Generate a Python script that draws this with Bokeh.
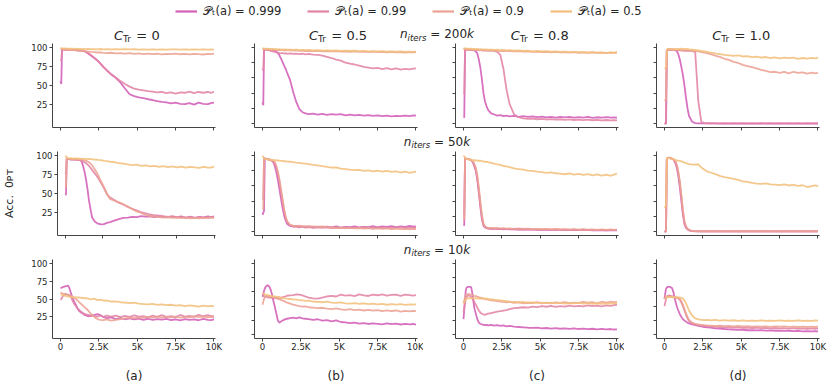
import math
from bokeh.plotting import figure
from bokeh.layouts import column, row
from bokeh.models import ColumnDataSource, FixedTicker, Range1d, Label, Legend, LegendItem
from bokeh.embed import file_html
from bokeh.resources import INLINE

FONT = "DejaVu Sans"
TXT = "#262626"
AX = "#444444"
COLORS = ["#d35fb7", "#e384a7", "#eca293", "#f2bf7c"]
LEGEND_VALUES = ["0.999", "0.99", "0.9", "0.5"]
C_TR = ["0", "0.5", "0.8", "1.0"]
N_ITERS = ["200k", "50k", "10k"]
PANEL_TAGS = ["(a)", "(b)", "(c)", "(d)"]
Y_LABEL = "Acc.\u00a0 0\u1d18\u1d1b"
X_TICKS = [0, 2500, 5000, 7500, 10000]
X_TICK_LABELS = ["0", "2.5K", "5K", "7.5K", "10K"]
Y_TICKS_FIRST = [25, 50, 75, 100]
Y_TICKS_OTHER = [0, 20, 40, 60, 80, 100]

# training iteration grid (shared by all curves)
steps = [0, 50, 100, 150, 200, 300, 400, 500, 600, 700,
         800, 900, 1000, 1100, 1200, 1300, 1400, 1500, 1600, 1800,
         2000, 2200, 2400, 2600, 2800, 3000, 3300, 3600, 3900, 4200,
         4500, 4800, 5100, 5400, 5700, 6000, 6300, 6600, 6900, 7200,
         7500, 7800, 8100, 8400, 8700, 9000, 9300, 9600, 9800, 10000]

# ---------------- row 1: n_iters = 200k ----------------
a1_999 = [56, 52, 97, 97.5, 97, 97.3, 96.8, 97.2, 96.9, 97.1,
          96.5, 96.8, 96.3, 96.6, 95.9, 96.0, 95.6, 95.2, 94.5, 92.0,
          89.0, 86.0, 82.5, 78.5, 74.0, 70.0, 64.5, 60.0, 54.0, 46.0,
          38.5, 36.0, 34.5, 33.5, 32.0, 31.0, 29.5, 28.5, 28.0, 26.5,
          27.5, 26.0, 25.5, 27.0, 25.0, 27.5, 26.0, 25.5, 27.0, 27.5]
a1_99 = [84, 83, 96.5, 97, 97.2, 96.8, 97.3, 96.6, 97, 96.4,
         96.8, 96.2, 96.5, 95.8, 96.1, 95.6, 95.3, 95.0, 94.6, 92.5,
         89.5, 86.5, 83.0, 79.0, 74.5, 70.5, 65.0, 60.5, 56.0, 52.0,
         48.5, 46.0, 44.5, 43.5, 42.5, 42.0, 41.0, 41.5, 40.0, 41.0,
         39.5, 41.0, 40.5, 42.0, 40.0, 41.5, 40.5, 41.5, 40.5, 41.5]
a1_9 = [98.5, 98, 97.5, 97.3, 97.6, 97, 97.2, 96.8, 96.5, 96.8,
        96.2, 96.5, 96.0, 95.7, 96.0, 95.4, 95.6, 95.1, 94.8, 94.5,
        94.0, 93.8, 93.2, 93.5, 92.8, 92.5, 92.9, 92.0, 92.4, 91.8,
        92.3, 91.5, 92.0, 91.2, 91.8, 91.0, 91.6, 90.8, 91.5, 91.0,
        91.7, 90.9, 91.3, 90.7, 91.5, 91.0, 90.6, 91.4, 91.0, 91.8]
a1_5 = [99, 98.8, 98.5, 98.6, 98.3, 98.5, 98.2, 98.4, 98.1, 98.3,
        98.0, 98.2, 97.9, 98.1, 97.8, 98.0, 97.7, 97.9, 97.6, 97.8,
        97.5, 97.7, 97.4, 97.8, 97.3, 97.6, 97.2, 97.5, 97.3, 97.6,
        97.2, 97.5, 97.1, 97.4, 97.0, 97.3, 97.1, 97.4, 97.0, 97.2,
        97.4, 96.9, 97.2, 97.0, 97.3, 96.9, 97.2, 97.0, 97.3, 97.1]

b1_999 = [28, 24, 96.5, 97.5, 97, 97.3, 96.8, 97.1, 96.5, 96.2,
          95.5, 94.5, 92.5, 89.5, 85.5, 81.0, 76.5, 72.0, 67.0, 57.0,
          41.5, 28.5, 19.0, 15.0, 13.5, 12.5, 13.2, 12.0, 12.8, 11.5,
          12.5, 11.8, 12.4, 11.0, 12.0, 10.8, 11.5, 10.5, 11.3, 10.2,
          11.0, 9.8, 10.5, 9.5, 10.2, 9.8, 10.6, 10.0, 10.8, 10.5]
b1_99 = [72, 70, 96.5, 97.2, 97, 96.5, 96.2, 95.5, 95.0, 94.5,
         94.0, 93.5, 93.0, 92.5, 92.2, 92.6, 91.8, 92.3, 91.5, 92.0,
         91.4, 91.8, 91.2, 91.6, 90.8, 91.3, 90.5, 90.0, 89.0, 87.5,
         86.0, 84.0, 82.5, 80.0, 78.5, 77.5, 76.0, 74.5, 73.5, 72.5,
         73.2, 71.5, 72.8, 71.0, 72.5, 70.8, 71.8, 71.2, 72.0, 72.3]
b1_9 = [98, 97.8, 97.5, 97.6, 97.2, 97.4, 97.0, 97.2, 96.8, 97.0,
        96.6, 96.8, 96.4, 96.6, 96.2, 96.5, 96.0, 96.3, 95.9, 96.1,
        95.7, 95.9, 95.4, 95.7, 95.2, 95.5, 95.0, 95.3, 94.8, 95.1,
        94.6, 94.9, 94.4, 94.8, 94.2, 94.6, 94.0, 94.5, 93.8, 94.3,
        93.6, 94.1, 93.5, 94.0, 93.4, 93.8, 93.2, 93.7, 93.3, 93.6]
b1_5 = [98.8, 98.5, 98.2, 98.4, 98.0, 98.2, 97.8, 98.0, 97.6, 97.9,
        97.5, 97.7, 97.3, 97.5, 97.1, 97.3, 96.9, 97.2, 96.8, 97.0,
        96.6, 96.8, 96.4, 96.7, 96.2, 96.5, 96.0, 96.3, 95.8, 96.1,
        95.6, 95.9, 95.4, 95.7, 95.2, 95.5, 95.0, 95.3, 94.8, 95.1,
        94.6, 94.9, 94.4, 94.7, 94.2, 94.6, 94.0, 94.4, 94.1, 94.3]

c1_999 = [8, 8.5, 96.5, 97.2, 97, 97.3, 96.8, 97.0, 96.5, 96.0,
          94.5, 92.0, 84.0, 73.0, 58.0, 40.0, 29.0, 23.0, 18.0, 13.5,
          12.0, 10.5, 11.2, 9.8, 10.5, 9.5, 10.2, 9.0, 9.8, 8.8,
          9.5, 8.5, 9.2, 8.3, 9.0, 8.0, 8.8, 8.2, 9.0, 7.8,
          8.6, 7.9, 8.8, 7.6, 8.4, 8.0, 8.7, 7.8, 8.2, 8.0]
c1_99 = [39, 40, 96.5, 97, 96.8, 97.2, 96.7, 97.0, 96.6, 96.9,
         96.4, 96.7, 96.2, 96.5, 96.0, 96.3, 95.8, 96.1, 95.6, 95.9,
         95.4, 94.0, 90.0, 72.0, 45.0, 26.0, 12.0, 8.5, 7.0, 6.2,
         6.8, 5.8, 6.3, 5.5, 6.0, 5.2, 5.8, 5.0, 5.6, 4.8,
         5.4, 4.6, 5.2, 4.5, 5.0, 4.3, 4.8, 4.2, 4.6, 4.4]
c1_9 = [98, 97.6, 97.3, 97.5, 97.1, 97.3, 96.9, 97.1, 96.7, 96.9,
        96.5, 96.7, 96.3, 96.5, 96.1, 96.3, 95.9, 96.1, 95.7, 95.9,
        95.5, 95.7, 95.2, 95.4, 94.9, 95.2, 94.6, 94.9, 94.3, 94.7,
        94.0, 94.4, 93.8, 94.2, 93.5, 94.0, 93.3, 93.8, 93.1, 93.6,
        92.9, 93.4, 92.8, 93.3, 92.6, 93.1, 92.5, 93.0, 92.7, 93.2]
c1_5 = [99, 98.7, 98.4, 98.5, 98.2, 98.3, 98.0, 98.2, 97.8, 98.0,
        97.6, 97.8, 97.4, 97.6, 97.2, 97.4, 97.0, 97.2, 96.8, 97.0,
        96.6, 96.8, 96.3, 96.5, 96.0, 96.2, 95.6, 95.9, 95.2, 95.5,
        94.8, 95.2, 94.5, 94.9, 94.2, 94.6, 93.9, 94.3, 93.6, 94.0,
        93.4, 93.8, 93.2, 93.6, 93.0, 93.5, 92.8, 93.3, 92.9, 93.5]

d1_999 = [0.3, 0.2, 0.4, 96.5, 97.2, 97.5, 97.0, 97.3, 96.8, 96.5,
          95.0, 91.0, 84.0, 74.0, 64.0, 50.0, 34.0, 20.0, 10.0, 2.5,
          0.8, 0.5, 0.4, 0.3, 0.4, 0.3, 0.3, 0.2, 0.3, 0.2,
          0.3, 0.2, 0.3, 0.2, 0.3, 0.2, 0.3, 0.2, 0.3, 0.2,
          0.3, 0.2, 0.3, 0.2, 0.3, 0.2, 0.3, 0.2, 0.3, 0.2]
d1_99 = [0.2, 0.3, 0.3, 96.0, 96.8, 96.5, 96.8, 96.3, 96.6, 96.1,
         96.4, 95.9, 96.2, 95.7, 96.0, 95.5, 95.8, 95.3, 95.6, 95.0,
         94.0, 30.0, 2.5, 0.8, 0.5, 0.4, 0.4, 0.3, 0.4, 0.3,
         0.4, 0.3, 0.4, 0.3, 0.4, 0.3, 0.4, 0.3, 0.4, 0.3,
         0.4, 0.3, 0.4, 0.3, 0.4, 0.3, 0.4, 0.3, 0.4, 0.3]
d1_9 = [31, 30.5, 31.5, 96.0, 96.8, 97.2, 96.8, 97.1, 96.6, 96.9,
        96.5, 96.8, 96.3, 96.6, 96.1, 96.4, 95.9, 96.2, 95.7, 95.5,
        95.0, 94.6, 93.8, 93.2, 92.0, 91.0, 89.0, 87.5, 85.0, 83.5,
        81.0, 79.5, 77.0, 75.5, 74.0, 72.5, 70.5, 69.0, 67.5, 68.0,
        66.5, 67.8, 66.0, 68.0, 66.5, 67.2, 65.5, 66.8, 65.8, 66.5]
d1_5 = [73, 72.5, 73.5, 96.5, 97.5, 97.8, 97.5, 97.9, 97.6, 98.0,
        97.7, 98.1, 97.8, 98.2, 97.6, 98.0, 97.5, 97.8, 97.3, 97.0,
        96.5, 96.0, 95.2, 94.6, 94.0, 93.2, 92.0, 91.2, 90.0, 89.5,
        88.8, 89.5, 88.0, 88.6, 87.2, 87.8, 86.5, 87.3, 86.0, 86.8,
        85.5, 86.4, 85.8, 86.6, 85.0, 86.0, 85.3, 86.2, 85.6, 86.5]

# ---------------- row 2: n_iters = 50k ----------------
a2_999 = [48, 49, 96.0, 95.5, 95.0, 94.8, 94.5, 94.8, 94.3, 94.6,
          94.2, 94.4, 93.8, 92.0, 86.0, 78.0, 68.0, 55.0, 40.0, 19.0,
          13.0, 10.5, 9.5, 10.0, 11.5, 12.5, 14.5, 16.5, 18.0, 18.5,
          19.5, 19.0, 20.5, 19.8, 20.2, 19.2, 20.0, 19.5, 18.8, 19.6,
          18.5, 19.8, 18.2, 19.5, 18.0, 19.2, 18.6, 20.0, 19.0, 20.0]
a2_99 = [77, 76, 96.0, 95.6, 95.2, 95.0, 94.7, 94.9, 94.4, 94.7,
         94.3, 94.0, 93.5, 93.0, 92.0, 91.0, 89.5, 88.0, 86.0, 81.0,
         76.0, 70.5, 64.0, 57.0, 49.0, 45.0, 41.5, 38.0, 35.5, 32.5,
         30.0, 28.0, 25.5, 24.0, 22.5, 21.5, 21.0, 20.2, 19.5, 20.5,
         19.0, 20.0, 18.5, 19.6, 18.2, 19.4, 18.0, 19.0, 18.4, 19.5]
a2_9 = [59, 58, 96.5, 96.0, 95.6, 95.3, 95.0, 95.2, 94.8, 95.0,
        94.6, 94.8, 94.3, 94.5, 94.0, 93.5, 92.8, 92.0, 91.0, 87.0,
        81.0, 74.5, 66.0, 58.5, 50.0, 43.0, 40.5, 38.5, 36.0, 33.0,
        29.5, 26.5, 24.5, 22.0, 20.5, 20.0, 19.2, 18.5, 19.0, 18.0,
        18.8, 17.8, 18.5, 17.5, 18.2, 17.6, 18.5, 17.8, 18.6, 18.2]
a2_5 = [99.5, 98.5, 97.0, 96.5, 96.2, 96.0, 96.3, 95.8, 96.1, 95.7,
        95.9, 95.5, 95.8, 95.4, 95.6, 95.2, 95.5, 95.0, 95.3, 94.8,
        94.5, 94.0, 93.6, 92.8, 92.3, 91.6, 91.0, 89.8, 89.2, 88.0,
        87.2, 87.8, 86.3, 86.9, 85.5, 86.2, 85.0, 85.8, 84.6, 85.4,
        84.3, 85.2, 84.0, 85.0, 84.2, 83.5, 84.8, 84.0, 83.8, 85.6]

b2_999 = [22, 25, 27, 96.0, 95.5, 95.0, 94.6, 94.0, 93.0, 91.0,
          86.0, 78.0, 68.0, 56.0, 44.0, 32.0, 22.0, 15.0, 10.5, 7.5,
          6.8, 7.5, 6.2, 7.0, 6.0, 6.8, 5.8, 6.6, 5.5, 6.5,
          5.6, 6.8, 5.4, 6.2, 5.8, 7.0, 5.5, 6.4, 6.0, 7.2,
          5.8, 6.8, 6.2, 7.4, 6.0, 7.0, 6.4, 7.5, 6.6, 7.0]
b2_99 = [42, 43, 96.5, 96.0, 95.5, 95.0, 94.6, 94.2, 93.6, 92.5,
         90.0, 84.0, 76.0, 65.0, 53.0, 40.0, 28.0, 19.0, 13.0, 8.5,
         7.0, 6.2, 5.8, 6.5, 5.4, 6.0, 5.0, 5.8, 5.2, 5.6,
         4.8, 5.5, 5.0, 5.8, 4.6, 5.4, 5.2, 6.0, 4.8, 5.6,
         5.0, 5.8, 4.6, 5.5, 5.2, 6.0, 5.0, 5.4, 4.8, 5.6]
b2_9 = [29, 30, 95.5, 96.0, 95.6, 95.2, 94.8, 94.3, 93.8, 92.8,
        91.0, 86.5, 79.0, 69.0, 57.0, 44.0, 31.0, 21.0, 14.0, 9.0,
        8.0, 7.2, 7.8, 6.8, 7.4, 6.5, 7.0, 6.2, 6.8, 6.0,
        5.5, 4.8, 5.2, 4.5, 5.0, 4.2, 4.8, 4.0, 4.6, 3.8,
        4.4, 3.6, 4.2, 3.5, 4.0, 3.4, 3.8, 3.2, 3.6, 3.5]
b2_5 = [99.5, 98.0, 96.0, 95.5, 95.0, 94.6, 94.2, 94.5, 93.8, 94.0,
        93.5, 93.7, 93.0, 93.2, 92.6, 92.8, 92.2, 92.4, 91.8, 91.6,
        91.0, 90.5, 90.2, 89.5, 89.0, 88.6, 87.5, 86.8, 85.8, 85.0,
        83.8, 84.2, 82.5, 82.0, 81.2, 80.5, 81.0, 79.5, 80.2, 79.0,
        79.8, 78.5, 79.5, 78.2, 79.0, 77.5, 78.5, 77.0, 78.0, 78.6]

c2_999 = [8, 9, 96.0, 95.8, 95.5, 95.2, 94.5, 93.5, 91.0, 86.0,
          80.0, 68.0, 50.0, 32.0, 16.0, 8.0, 5.5, 4.5, 4.0, 3.6,
          4.0, 3.4, 3.8, 3.2, 3.6, 3.0, 3.4, 2.8, 3.2, 2.6,
          3.0, 2.5, 2.8, 2.4, 2.7, 2.2, 2.6, 2.1, 2.5, 2.0,
          2.4, 2.0, 2.3, 1.9, 2.2, 1.8, 2.1, 1.8, 2.0, 1.9]
c2_99 = [23, 24, 96.5, 96.0, 95.6, 95.3, 94.8, 94.0, 92.0, 88.0,
         82.0, 71.0, 54.0, 35.0, 19.0, 9.5, 6.0, 5.0, 4.5, 4.0,
         3.6, 4.2, 3.4, 3.9, 3.2, 3.7, 3.0, 3.5, 2.8, 3.3,
         2.6, 3.1, 2.5, 3.0, 2.4, 2.9, 2.3, 2.8, 2.2, 2.7,
         2.1, 2.6, 2.0, 2.5, 2.0, 2.4, 1.9, 2.4, 2.0, 2.3]
c2_9 = [15, 16, 96.0, 95.8, 95.4, 95.0, 94.6, 93.8, 92.5, 89.0,
        84.0, 74.0, 58.0, 39.0, 22.0, 11.0, 7.0, 5.5, 5.0, 4.8,
        4.5, 4.8, 4.2, 4.6, 4.0, 4.4, 3.8, 4.2, 3.6, 4.0,
        3.4, 3.8, 3.2, 3.6, 3.0, 3.5, 2.9, 3.4, 2.8, 3.3,
        2.7, 3.2, 2.6, 3.1, 2.5, 3.0, 2.4, 2.9, 2.5, 2.8]
c2_5 = [99.5, 98.5, 97.0, 96.0, 95.2, 94.5, 94.8, 94.0, 93.5, 93.8,
        93.2, 93.5, 92.8, 93.0, 92.4, 92.0, 91.5, 91.8, 91.0, 90.2,
        89.0, 88.2, 87.5, 86.0, 85.5, 84.6, 83.0, 82.0, 81.2, 80.0,
        79.5, 78.6, 78.0, 77.0, 77.8, 76.5, 76.0, 75.2, 76.2, 74.8,
        75.8, 74.5, 75.5, 73.8, 75.0, 73.5, 74.6, 73.2, 74.8, 76.0]

d2_999 = [0.3, 0.2, 0.4, 95.0, 96.5, 96.8, 96.2, 95.5, 94.0, 90.0,
          84.0, 73.0, 58.0, 40.0, 22.0, 10.0, 5.0, 3.0, 1.8, 0.8,
          0.5, 0.4, 0.5, 0.3, 0.4, 0.3, 0.4, 0.3, 0.4, 0.3,
          0.4, 0.3, 0.4, 0.3, 0.4, 0.3, 0.4, 0.3, 0.4, 0.3,
          0.4, 0.3, 0.4, 0.3, 0.4, 0.3, 0.4, 0.3, 0.4, 0.3]
d2_99 = [0.2, 0.3, 0.3, 94.5, 96.2, 96.5, 96.0, 95.4, 94.5, 91.5,
         86.5, 77.0, 63.0, 45.0, 26.0, 12.0, 6.0, 3.5, 2.0, 0.9,
         0.6, 0.5, 0.4, 0.5, 0.4, 0.5, 0.4, 0.5, 0.4, 0.5,
         0.4, 0.5, 0.4, 0.5, 0.4, 0.5, 0.4, 0.5, 0.4, 0.5,
         0.4, 0.5, 0.4, 0.5, 0.4, 0.5, 0.4, 0.5, 0.4, 0.5]
d2_9 = [0.3, 0.3, 0.5, 95.5, 96.8, 97.0, 96.5, 95.8, 94.8, 92.5,
        88.0, 79.0, 66.0, 48.0, 29.0, 14.0, 7.0, 4.0, 2.2, 1.0,
        0.7, 0.6, 0.5, 0.6, 0.5, 0.6, 0.5, 0.6, 0.5, 0.6,
        0.5, 0.6, 0.5, 0.6, 0.5, 0.6, 0.5, 0.6, 0.5, 0.6,
        0.5, 0.6, 0.5, 0.6, 0.5, 0.6, 0.5, 0.6, 0.5, 0.6]
d2_5 = [33, 32, 34, 95.5, 96.5, 96.2, 95.8, 95.2, 94.8, 94.0,
        93.5, 93.0, 92.6, 92.0, 91.4, 90.6, 89.8, 89.2, 88.5, 88.0,
        87.8, 88.3, 84.0, 81.0, 78.5, 77.5, 75.5, 73.0, 71.5, 70.5,
        69.0, 67.8, 66.0, 65.2, 64.0, 63.0, 62.5, 63.2, 62.0, 61.5,
        61.0, 62.0, 60.5, 61.2, 60.0, 60.8, 58.5, 59.8, 60.5, 59.8]

# ---------------- row 3: n_iters = 10k ----------------
a3_999 = [65, 65.5, 66.0, 66.5, 67.0, 67.5, 68.0, 68.5, 64.0, 57.0,
          50.0, 46.0, 42.0, 37.0, 33.5, 32.0, 30.5, 29.0, 27.5, 26.0,
          26.5, 28.0, 29.0, 27.5, 25.0, 23.5, 24.5, 22.0, 23.5, 21.8,
          23.0, 21.5, 22.8, 21.0, 22.5, 20.8, 22.0, 21.2, 22.4, 20.5,
          21.8, 20.2, 22.0, 20.8, 21.5, 20.4, 22.2, 21.0, 20.6, 21.5]
a3_99 = [49, 50, 52, 54, 55.5, 57.0, 56.5, 56.0, 55.0, 52.0,
         47.0, 43.0, 40.0, 37.0, 35.0, 33.0, 31.5, 30.0, 29.0, 28.0,
         27.0, 26.5, 25.5, 26.8, 25.0, 27.0, 25.5, 26.8, 24.8, 26.5,
         25.0, 27.2, 25.5, 26.0, 24.5, 26.8, 25.2, 27.5, 25.0, 26.2,
         24.8, 27.8, 25.5, 26.5, 25.2, 28.0, 26.0, 27.5, 26.5, 26.0]
a3_9 = [59, 58.5, 58.0, 57.5, 57.0, 56.5, 56.0, 55.5, 55.0, 54.0,
        53.0, 51.5, 50.0, 48.0, 46.0, 44.0, 42.0, 40.0, 38.0, 34.0,
        29.0, 25.0, 22.0, 21.0, 20.5, 21.5, 20.0, 21.0, 22.0, 23.0,
        24.0, 23.5, 24.5, 23.8, 25.0, 24.2, 25.5, 24.0, 25.2, 24.5,
        25.5, 24.2, 25.0, 24.5, 26.0, 24.8, 25.5, 24.6, 25.0, 24.5]
a3_5 = [57, 56.5, 56.0, 55.5, 55.0, 54.5, 54.0, 53.5, 53.0, 52.5,
        52.8, 52.0, 52.5, 51.8, 52.2, 51.5, 51.8, 51.0, 51.4, 50.5,
        49.5, 50.5, 48.5, 49.2, 47.8, 48.0, 46.5, 46.8, 45.5, 45.0,
        44.2, 44.8, 43.5, 43.0, 42.5, 43.2, 41.8, 42.6, 41.5, 42.0,
        40.8, 41.5, 40.2, 41.0, 40.5, 39.5, 40.8, 39.8, 40.5, 39.8]

b3_999 = [53, 57, 61, 64.5, 67, 69, 68.5, 65, 58, 48,
          39.5, 30.0, 20.0, 17.0, 18.5, 20.0, 21.0, 22.0, 22.5, 23.5,
          24.0, 23.0, 24.5, 23.0, 22.5, 22.0, 21.0, 21.8, 20.0, 20.5,
          19.0, 20.2, 18.0, 17.5, 16.5, 17.2, 15.8, 16.5, 15.2, 16.0,
          15.5, 14.8, 16.2, 15.0, 15.8, 14.5, 15.5, 14.8, 15.2, 14.2]
b3_99 = [55, 54.5, 54.0, 53.5, 53.0, 52.5, 52.0, 51.8, 51.5, 51.2,
         51.0, 51.5, 51.0, 52.0, 51.5, 52.5, 53.0, 53.5, 54.5, 55.0,
         55.5, 56.5, 56.0, 55.0, 53.5, 52.0, 51.0, 50.5, 52.0, 53.5,
         54.5, 53.5, 56.0, 54.8, 55.5, 54.0, 56.5, 55.0, 54.2, 56.0,
         55.2, 56.5, 54.8, 55.8, 56.2, 54.5, 56.0, 55.5, 54.8, 55.5]
b3_9 = [42, 46, 50, 53, 54, 54.5, 54.0, 53.5, 53.0, 52.5,
        52.0, 51.2, 50.5, 49.5, 48.8, 48.0, 47.0, 46.0, 45.0, 43.5,
        42.0, 41.0, 40.2, 39.5, 39.8, 38.5, 38.0, 37.2, 37.8, 36.5,
        36.0, 37.0, 35.5, 35.0, 35.8, 34.5, 35.2, 34.0, 35.0, 33.8,
        34.5, 33.2, 34.2, 33.0, 34.0, 32.5, 33.5, 32.8, 33.6, 33.0]
b3_5 = [58, 57.5, 57.0, 56.5, 56.0, 55.5, 55.0, 54.5, 54.2, 53.8,
        53.5, 53.2, 53.0, 52.5, 52.0, 51.5, 51.2, 50.8, 50.5, 50.0,
        49.5, 49.0, 48.5, 48.0, 47.5, 47.8, 46.5, 46.0, 45.5, 46.2,
        45.0, 44.5, 45.2, 44.0, 43.5, 44.2, 43.2, 43.8, 42.8, 43.5,
        42.5, 43.2, 42.0, 43.0, 42.2, 42.8, 41.8, 42.6, 42.2, 42.5]

c3_999 = [22, 35, 50, 62, 66, 67, 67, 66.5, 55, 38,
          30, 22, 17, 15.5, 14.5, 14.0, 13.5, 14.0, 13.2, 13.8,
          12.8, 13.5, 12.5, 13.2, 12.0, 12.5, 11.5, 11.0, 10.5, 10.0,
          9.8, 10.2, 9.2, 9.6, 8.8, 9.4, 8.6, 9.2, 8.4, 9.0,
          8.2, 8.8, 8.0, 8.6, 7.8, 8.5, 7.6, 8.2, 7.5, 7.8]
c3_99 = [31.5, 38, 45, 50, 53, 55, 54.5, 53, 50, 46,
         42, 38, 34, 31, 29.5, 28.5, 28.0, 28.8, 29.5, 30.5,
         31.5, 32.5, 33.0, 33.8, 34.5, 36.0, 37.2, 37.8, 38.5, 38.0,
         39.5, 38.8, 40.2, 39.2, 40.5, 39.0, 40.2, 39.5, 40.8, 39.8,
         40.5, 39.6, 41.0, 40.0, 40.8, 39.8, 41.2, 40.5, 41.5, 42.0]
c3_9 = [44, 48, 52, 55, 56, 57, 56.5, 56, 55.2, 54.5,
        54.0, 53.2, 52.5, 52.0, 51.2, 50.8, 50.0, 49.5, 49.0, 48.2,
        47.8, 47.0, 46.5, 46.0, 45.5, 46.0, 44.5, 45.2, 44.0, 44.8,
        44.2, 45.5, 44.0, 45.0, 43.8, 45.2, 44.5, 45.8, 44.2, 45.0,
        44.5, 46.0, 44.8, 45.5, 44.0, 46.2, 45.0, 46.5, 45.5, 46.0]
c3_5 = [44, 46, 48, 49.5, 50.5, 51.0, 51.2, 51.0, 51.5, 51.0,
        50.8, 51.2, 50.6, 51.0, 50.5, 50.8, 50.2, 50.5, 50.0, 49.5,
        49.0, 48.5, 48.0, 47.5, 47.0, 46.5, 46.0, 45.5, 45.8, 44.8,
        45.2, 44.5, 45.0, 44.2, 44.8, 43.8, 44.5, 43.5, 44.2, 43.8,
        44.5, 43.6, 44.2, 43.4, 44.0, 43.2, 44.0, 43.5, 43.8, 44.2]

d3_999 = [50, 58, 64, 66, 67, 67, 66.5, 65, 58, 48,
          40, 34, 29, 25, 22, 20, 18.5, 17, 16, 14.5,
          13.5, 12.5, 12.0, 11.0, 10.5, 10.0, 9.2, 8.8, 8.2, 7.8,
          7.5, 7.0, 7.2, 6.5, 6.8, 6.2, 6.5, 6.0, 6.2, 5.8,
          6.0, 5.5, 5.8, 5.2, 5.6, 5.0, 5.4, 5.0, 5.2, 5.0]
d3_99 = [40, 45, 50, 53, 54, 55, 54.5, 54, 53, 52.5,
         52, 51, 49, 45, 40, 34, 28, 23, 19, 16,
         14.5, 13.5, 13.0, 12.5, 12.0, 11.8, 11.2, 11.0, 10.5, 10.8,
         10.2, 10.5, 9.8, 10.2, 9.6, 10.0, 9.5, 9.8, 9.2, 9.6,
         9.0, 9.5, 8.8, 9.4, 8.6, 9.2, 8.5, 9.0, 8.6, 9.0]
d3_9 = [55, 54.5, 54, 53.5, 53, 53, 52.5, 52.5, 52, 52,
        51.5, 51, 50, 47, 42, 36, 30, 25, 21, 17,
        15.5, 14.5, 14.0, 13.5, 13.2, 13.0, 12.5, 12.8, 12.2, 12.5,
        12.0, 12.4, 11.8, 12.2, 11.5, 12.0, 11.5, 12.0, 11.2, 11.8,
        11.5, 11.8, 11.2, 11.6, 11.0, 11.5, 11.0, 11.4, 11.0, 11.5]
d3_5 = [50, 51, 52, 52.5, 53, 53, 52.5, 53, 52.5, 52.5,
        52, 52.5, 52, 51.5, 50.5, 48, 44, 39, 34, 27,
        23, 21.5, 21.0, 20.5, 21.0, 20.2, 20.8, 20.0, 20.5, 19.8,
        20.4, 19.6, 20.2, 19.5, 20.0, 19.4, 20.2, 19.5, 20.0, 19.6,
        20.2, 19.5, 20.0, 19.4, 20.1, 19.5, 20.0, 19.6, 20.2, 19.8]

PANELS = [
    [[a1_999, a1_99, a1_9, a1_5], [b1_999, b1_99, b1_9, b1_5],
     [c1_999, c1_99, c1_9, c1_5], [d1_999, d1_99, d1_9, d1_5]],
    [[a2_999, a2_99, a2_9, a2_5], [b2_999, b2_99, b2_9, b2_5],
     [c2_999, c2_99, c2_9, c2_5], [d2_999, d2_99, d2_9, d2_5]],
    [[a3_999, a3_99, a3_9, a3_5], [b3_999, b3_99, b3_9, b3_5],
     [c3_999, c3_99, c3_9, c3_5], [d3_999, d3_99, d3_9, d3_5]],
]

# ---------------- layout constants (page pixels) ----------------
TOTAL_W = 830
XMIN, XMAX = -521, 10098
YMIN, YMAX = -5, 105
COL_W = [222, 201, 201, 206]
COL_L = [52, 32, 32, 32]
COL_R = [7, 6, 6, 11]
ROW_H = [90, 90, 126]
ROW_B = [6, 6, 42]
HEAD_H = 43
SEP_H = 18

EM = {'C': 0.698, 'T': 0.611, 'r': 0.411, ' ': 0.318, '=': 0.838, '0': 0.636,
      '1': 0.636, '2': 0.636, '5': 0.636, '8': 0.636, '.': 0.318, 'n': 0.634,
      'i': 0.278, 't': 0.392, 'e': 0.615, 's': 0.521, 'k': 0.579, 'A': 0.684,
      'c': 0.550, 'P': 0.603}


def tw(s, size):
    return sum(EM.get(ch, 0.6) for ch in s) * size


def rich(p, pieces, xc, yb):
    """Place a run of text pieces; yb is the alphabetic baseline (from bottom)."""
    total = sum(tw(t, s) for t, s, _, _ in pieces)
    x = xc - total / 2.0
    for t, s, style, dy in pieces:
        lead = len(t) - len(t.lstrip(" "))
        x += tw(" " * lead, s)
        core = t.strip(" ")
        p.add_layout(Label(x=x, y=yb + dy + 0.297 * s, text=core,
                           text_font=FONT, text_font_size=f"{s}px",
                           text_font_style=style, text_color=TXT,
                           text_align="left", text_baseline="middle"))
        x += tw(t.lstrip(" "), s)


def blank(h):
    f = figure(width=TOTAL_W, height=h, x_range=Range1d(0, TOTAL_W),
               y_range=Range1d(0, h), output_backend="svg",
               toolbar_location=None, x_axis_type=None, y_axis_type=None,
               min_border=0)
    f.grid.visible = False
    f.outline_line_color = None
    return f


def niters_label(p, txt, yb):
    rich(p, [("n", 12, "italic", 0), ("iters", 8.5, "italic", -2.5),
             (" = " + txt[:-1], 12, "normal", 0), ("k", 12, "italic", 0)],
         436.5, yb)


# header: legend, column titles, n_iters = 200k
head = blank(HEAD_H)
key_series = [a1_999, a1_99, a1_9, a1_5]
key_renderers = []
for ys, c in zip(key_series, COLORS):
    kr = head.line(x=steps, y=ys, line_color=c, line_width=2.2)
    kr.visible = False
    key_renderers.append(kr)
items = [LegendItem(label="\U0001D4AB\u209C(a) = " + v, renderers=[r])
         for v, r in zip(LEGEND_VALUES, key_renderers)]
leg = Legend(items=items, orientation="horizontal", location=(175, 25),
             padding=0, margin=0, spacing=26, glyph_width=22, glyph_height=12,
             label_standoff=6, label_height=12, label_text_font=FONT,
             label_text_font_size="11.5px", label_text_color=TXT,
             background_fill_alpha=0, border_line_alpha=0,
             inactive_fill_alpha=0)
head.add_layout(leg)
title_centers = [136.3, 337.5, 539.2, 740.7]
for xc, v in zip(title_centers, C_TR):
    rich(head, [("C", 13, "italic", 0), ("Tr", 9, "normal", -2.3),
                (" = " + v, 13, "normal", 0)], xc, 4.6)
niters_label(head, N_ITERS[0], 5.5)

sep1 = blank(SEP_H)
niters_label(sep1, N_ITERS[1], 6)
sep2 = blank(SEP_H)
niters_label(sep2, N_ITERS[2], 6.2)


def panel(r, c):
    p = figure(width=COL_W[c], height=ROW_H[r], x_range=Range1d(XMIN, XMAX),
               y_range=Range1d(YMIN, YMAX), output_backend="svg",
               toolbar_location=None, min_border_left=COL_L[c],
               min_border_right=COL_R[c], min_border_top=0,
               min_border_bottom=ROW_B[r])
    p.grid.visible = False
    p.outline_line_color = None
    for ys, col in zip(PANELS[r][c], COLORS):
        src = ColumnDataSource(dict(x=steps, y=ys))
        p.line("x", "y", source=src, line_color=col, line_width=1.8,
               line_alpha=0.88)
    for ax in (p.xaxis[0], p.yaxis[0]):
        ax.axis_line_color = AX
        ax.axis_line_width = 1
        ax.major_tick_line_color = AX
        ax.major_tick_in = 0
        ax.major_tick_out = 3
        ax.minor_tick_line_color = None
        ax.major_label_text_font = FONT
        ax.major_label_text_font_size = "8.5px"
        ax.major_label_text_color = TXT
    p.xaxis.ticker = FixedTicker(ticks=X_TICKS)
    p.xaxis.major_label_overrides = {t: l for t, l in zip(X_TICKS, X_TICK_LABELS)}
    p.xaxis.major_label_standoff = 0
    if r < 2:
        p.xaxis.major_label_text_font_size = "1px"
        p.xaxis.major_label_text_color = None
    else:
        p.xaxis.axis_label = PANEL_TAGS[c]
        p.xaxis.axis_label_text_font = FONT
        p.xaxis.axis_label_text_font_size = "12px"
        p.xaxis.axis_label_text_font_style = "normal"
        p.xaxis.axis_label_text_color = TXT
        p.xaxis.axis_label_standoff = 14
    if c == 0:
        p.yaxis.ticker = FixedTicker(ticks=Y_TICKS_FIRST)
        p.yaxis.major_label_standoff = 2
        if r == 1:
            p.yaxis.axis_label = Y_LABEL
            p.yaxis.axis_label_text_font = FONT
            p.yaxis.axis_label_text_font_size = "11px"
            p.yaxis.axis_label_text_font_style = "normal"
            p.yaxis.axis_label_text_color = TXT
            p.yaxis.axis_label_standoff = 17
    else:
        p.yaxis.ticker = FixedTicker(ticks=Y_TICKS_OTHER)
        p.yaxis.major_label_text_font_size = "1px"
        p.yaxis.major_label_text_color = None
    return p


rows = [row(*[panel(r, c) for c in range(4)]) for r in range(3)]

layout = column(head, rows[0], sep1, rows[1], sep2, rows[2])
open("out.html", "w").write(file_html(layout, INLINE))
